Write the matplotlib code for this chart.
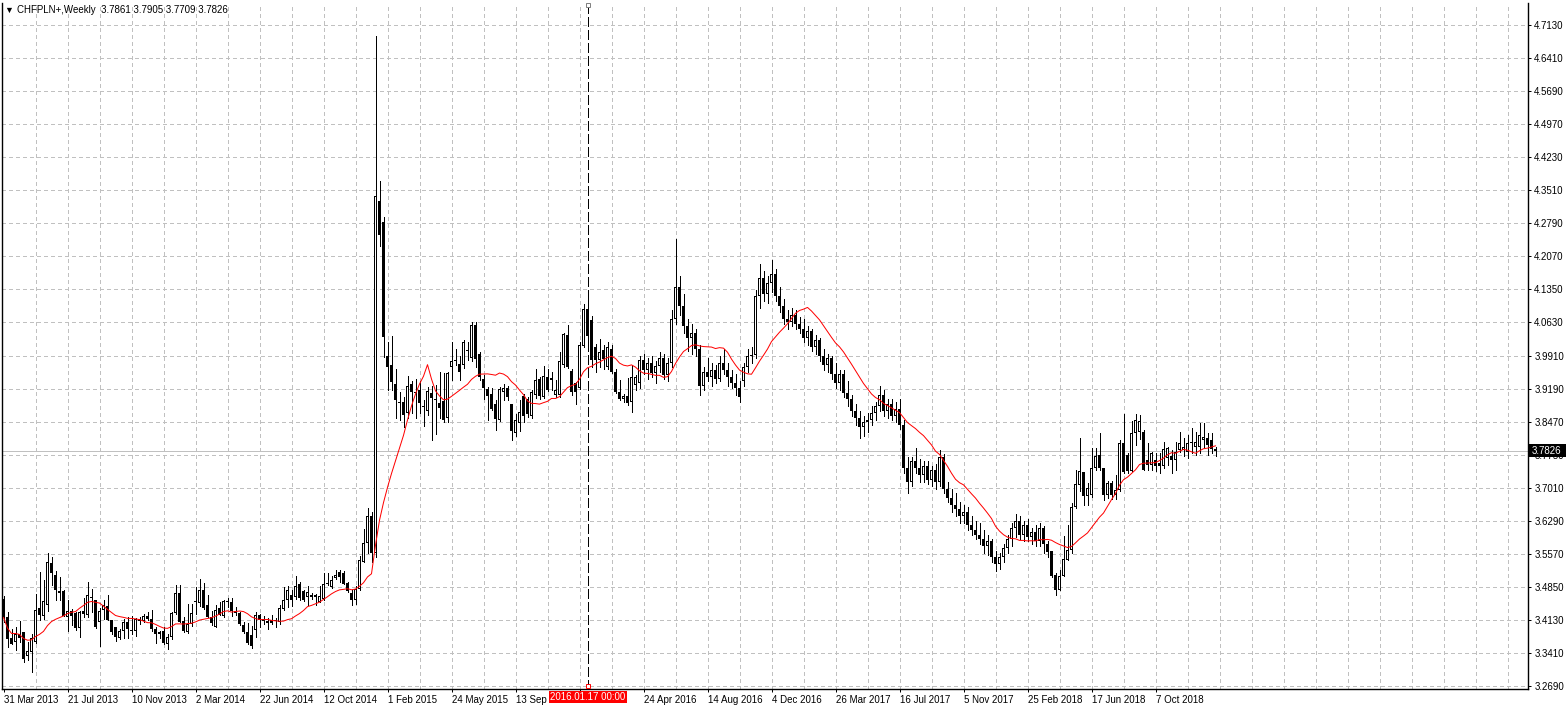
import numpy as np
import pandas as pd
import matplotlib
matplotlib.use("Agg")
import matplotlib.pyplot as plt
from matplotlib.patches import Rectangle

# CHFPLN+ weekly candles, first bar = week of 31 Mar 2013
opens = [3.459, 3.419, 3.375, 3.365, 3.383, 3.387, 3.334, 3.343, 3.365, 3.440,
         3.421, 3.445, 3.537, 3.511, 3.476, 3.476, 3.419, 3.432, 3.428, 3.396,
         3.427, 3.424, 3.462, 3.457, 3.408, 3.436, 3.443, 3.414, 3.397, 3.374,
         3.390, 3.408, 3.389, 3.390, 3.416, 3.411, 3.423, 3.416, 3.394, 3.383,
         3.389, 3.361, 3.376, 3.429, 3.473, 3.412, 3.387, 3.404, 3.455, 3.450,
         3.479, 3.445, 3.420, 3.399, 3.440, 3.421, 3.454, 3.452, 3.432, 3.428,
         3.402, 3.388, 3.380, 3.392, 3.425, 3.412, 3.407, 3.414, 3.411, 3.409,
         3.438, 3.456, 3.467, 3.463, 3.493, 3.476, 3.463, 3.467, 3.467, 3.452,
         3.459, 3.494, 3.486, 3.504, 3.518, 3.516, 3.494, 3.472, 3.458, 3.480,
         3.541, 3.581, 3.640, 3.560, 4.329, 4.283, 3.991, 3.970, 3.929, 3.890,
         3.889, 3.865, 3.929, 3.912, 3.916, 3.880, 3.870, 3.909, 3.894, 3.887,
         3.892, 3.854, 3.966, 3.982, 3.973, 3.970, 4.000, 3.985, 4.057, 3.995,
         3.940, 3.917, 3.908, 3.886, 3.850, 3.912, 3.921, 3.885, 3.822, 3.844,
         3.902, 3.895, 3.858, 3.904, 3.940, 3.901, 3.944, 3.937, 3.904, 3.904,
         3.970, 4.035, 3.957, 3.930, 3.919, 4.011, 4.092, 4.068, 4.010, 3.981,
         4.003, 3.966, 4.006, 3.955, 3.911, 3.895, 3.902, 3.890, 3.926, 3.930,
         3.981, 3.960, 3.975, 3.952, 3.968, 3.985, 3.948, 3.975, 4.070, 4.140,
         4.100, 4.055, 4.030, 4.040, 4.005, 3.925, 3.955, 3.945, 3.960, 3.940,
         3.975, 3.960, 3.945, 3.930, 3.920, 3.935, 3.965, 3.990, 3.992, 4.120,
         4.160, 4.125, 4.150, 4.170, 4.120, 4.100, 4.070, 4.065, 4.080, 4.060,
         4.050, 4.030, 4.045, 4.010, 4.025, 3.990, 3.970, 3.985, 3.950, 3.930,
         3.950, 3.910, 3.895, 3.870, 3.855, 3.835, 3.845, 3.850, 3.865, 3.880,
         3.905, 3.870, 3.885, 3.860, 3.875, 3.840, 3.745, 3.715, 3.760, 3.745,
         3.730, 3.750, 3.720, 3.740, 3.715, 3.770, 3.700, 3.680, 3.665, 3.655,
         3.640, 3.650, 3.620, 3.610, 3.600, 3.590, 3.575, 3.585, 3.550, 3.535,
         3.550, 3.570, 3.590, 3.615, 3.630, 3.600, 3.620, 3.595, 3.605, 3.585,
         3.615, 3.580, 3.563, 3.512, 3.478, 3.510, 3.545, 3.567, 3.661, 3.709,
         3.736, 3.685, 3.687, 3.745, 3.774, 3.745, 3.687, 3.712, 3.687, 3.698,
         3.801, 3.774, 3.738, 3.822, 3.825, 3.825, 3.763, 3.752, 3.763, 3.756,
         3.749, 3.767, 3.771, 3.763, 3.785, 3.785, 3.781, 3.803, 3.792, 3.792,
         3.807, 3.811, 3.807, 3.7861]
highs = [3.465, 3.430, 3.393, 3.398, 3.412, 3.388, 3.365, 3.383, 3.471, 3.518,
         3.500, 3.560, 3.550, 3.520, 3.507, 3.479, 3.456, 3.438, 3.430, 3.434,
         3.462, 3.497, 3.480, 3.457, 3.440, 3.456, 3.467, 3.414, 3.399, 3.394,
         3.416, 3.419, 3.422, 3.418, 3.420, 3.427, 3.431, 3.435, 3.397, 3.390,
         3.397, 3.383, 3.430, 3.489, 3.489, 3.420, 3.449, 3.449, 3.485, 3.502,
         3.494, 3.467, 3.433, 3.445, 3.453, 3.457, 3.462, 3.462, 3.441, 3.430,
         3.409, 3.406, 3.400, 3.430, 3.427, 3.421, 3.418, 3.424, 3.418, 3.445,
         3.485, 3.488, 3.478, 3.510, 3.497, 3.479, 3.487, 3.472, 3.470, 3.488,
         3.515, 3.515, 3.510, 3.522, 3.523, 3.520, 3.496, 3.478, 3.487, 3.553,
         3.613, 3.658, 3.650, 4.689, 4.372, 4.294, 4.021, 4.034, 3.962, 3.911,
         3.900, 3.946, 3.936, 3.940, 3.935, 3.894, 3.923, 3.924, 3.927, 3.956,
         3.953, 3.954, 4.021, 4.006, 3.991, 4.024, 4.021, 4.064, 4.064, 3.999,
         3.948, 3.922, 3.919, 3.893, 3.922, 3.928, 3.924, 3.885, 3.864, 3.893,
         3.908, 3.900, 3.915, 3.962, 3.944, 3.968, 3.962, 3.955, 3.937, 3.999,
         4.040, 4.057, 3.962, 3.933, 4.021, 4.104, 4.130, 4.077, 4.017, 4.028,
         4.014, 4.021, 4.013, 3.962, 3.937, 3.908, 3.943, 3.970, 3.948, 3.990,
         3.995, 3.985, 3.990, 3.980, 3.998, 3.995, 3.985, 4.090, 4.245, 4.165,
         4.125, 4.070, 4.060, 4.050, 4.015, 3.965, 3.985, 3.975, 3.970, 3.990,
         4.005, 3.975, 3.960, 3.950, 3.935, 3.975, 4.005, 4.010, 4.135, 4.190,
         4.175, 4.165, 4.200, 4.180, 4.140, 4.115, 4.090, 4.095, 4.090, 4.075,
         4.070, 4.055, 4.050, 4.035, 4.030, 4.005, 3.995, 3.990, 3.975, 3.960,
         3.960, 3.935, 3.905, 3.885, 3.870, 3.860, 3.865, 3.880, 3.890, 3.925,
         3.915, 3.895, 3.895, 3.890, 3.895, 3.850, 3.770, 3.770, 3.790, 3.765,
         3.760, 3.760, 3.750, 3.755, 3.785, 3.775, 3.715, 3.700, 3.690, 3.670,
         3.665, 3.660, 3.640, 3.630, 3.625, 3.610, 3.600, 3.590, 3.565, 3.560,
         3.580, 3.600, 3.625, 3.645, 3.640, 3.630, 3.635, 3.615, 3.620, 3.625,
         3.618, 3.585, 3.563, 3.516, 3.522, 3.596, 3.621, 3.669, 3.741, 3.811,
         3.736, 3.712, 3.789, 3.789, 3.821, 3.745, 3.716, 3.716, 3.731, 3.807,
         3.864, 3.778, 3.847, 3.864, 3.862, 3.829, 3.800, 3.781, 3.778, 3.778,
         3.803, 3.792, 3.785, 3.803, 3.825, 3.811, 3.818, 3.832, 3.825, 3.843,
         3.843, 3.821, 3.821, 3.7905]
lows = [3.410, 3.354, 3.361, 3.348, 3.365, 3.322, 3.325, 3.300, 3.364, 3.413,
        3.416, 3.434, 3.489, 3.456, 3.456, 3.423, 3.389, 3.403, 3.391, 3.376,
        3.419, 3.420, 3.430, 3.395, 3.356, 3.416, 3.413, 3.383, 3.367, 3.371,
        3.374, 3.374, 3.383, 3.379, 3.404, 3.409, 3.414, 3.390, 3.363, 3.375,
        3.361, 3.350, 3.372, 3.427, 3.409, 3.387, 3.385, 3.400, 3.427, 3.443,
        3.438, 3.419, 3.402, 3.399, 3.424, 3.419, 3.441, 3.423, 3.425, 3.402,
        3.386, 3.360, 3.353, 3.377, 3.397, 3.405, 3.393, 3.404, 3.398, 3.404,
        3.436, 3.442, 3.443, 3.459, 3.458, 3.455, 3.447, 3.459, 3.447, 3.452,
        3.458, 3.489, 3.484, 3.502, 3.497, 3.491, 3.474, 3.447, 3.449, 3.478,
        3.539, 3.560, 3.540, 3.550, 4.230, 3.987, 3.916, 3.916, 3.854, 3.850,
        3.835, 3.854, 3.865, 3.854, 3.865, 3.836, 3.861, 3.806, 3.820, 3.854,
        3.846, 3.846, 3.937, 3.970, 3.937, 3.963, 3.981, 3.980, 3.965, 3.937,
        3.897, 3.850, 3.872, 3.828, 3.848, 3.893, 3.893, 3.806, 3.815, 3.827,
        3.846, 3.857, 3.855, 3.899, 3.897, 3.899, 3.913, 3.915, 3.900, 3.900,
        3.965, 3.963, 3.904, 3.886, 3.917, 4.010, 4.020, 3.965, 3.955, 3.966,
        3.962, 3.962, 3.953, 3.909, 3.893, 3.890, 3.884, 3.868, 3.915, 3.920,
        3.950, 3.940, 3.945, 3.930, 3.955, 3.940, 3.935, 3.965, 4.060, 4.080,
        4.040, 4.000, 3.995, 3.990, 3.905, 3.915, 3.935, 3.925, 3.930, 3.935,
        3.950, 3.925, 3.920, 3.905, 3.890, 3.925, 3.955, 3.975, 3.985, 4.095,
        4.110, 4.105, 4.130, 4.110, 4.085, 4.060, 4.050, 4.055, 4.050, 4.040,
        4.020, 4.015, 4.000, 3.995, 3.980, 3.960, 3.955, 3.940, 3.920, 3.915,
        3.900, 3.880, 3.860, 3.840, 3.810, 3.815, 3.825, 3.840, 3.850, 3.870,
        3.860, 3.855, 3.850, 3.845, 3.830, 3.735, 3.690, 3.705, 3.735, 3.715,
        3.715, 3.710, 3.705, 3.700, 3.705, 3.690, 3.670, 3.650, 3.640, 3.625,
        3.625, 3.610, 3.600, 3.590, 3.580, 3.560, 3.555, 3.540, 3.520, 3.525,
        3.540, 3.560, 3.575, 3.595, 3.590, 3.585, 3.585, 3.580, 3.575, 3.575,
        3.559, 3.552, 3.508, 3.468, 3.478, 3.510, 3.545, 3.559, 3.658, 3.694,
        3.665, 3.665, 3.683, 3.741, 3.741, 3.676, 3.679, 3.677, 3.677, 3.694,
        3.734, 3.734, 3.738, 3.796, 3.808, 3.741, 3.741, 3.741, 3.738, 3.734,
        3.745, 3.752, 3.734, 3.741, 3.781, 3.771, 3.767, 3.778, 3.774, 3.778,
        3.789, 3.774, 3.778, 3.7709]
closes = [3.419, 3.372, 3.361, 3.383, 3.374, 3.329, 3.346, 3.375, 3.436, 3.424,
          3.454, 3.541, 3.515, 3.478, 3.472, 3.423, 3.432, 3.423, 3.396, 3.430,
          3.432, 3.469, 3.464, 3.398, 3.432, 3.447, 3.414, 3.387, 3.377, 3.390,
          3.408, 3.394, 3.392, 3.416, 3.411, 3.423, 3.416, 3.394, 3.383, 3.387,
          3.363, 3.377, 3.429, 3.473, 3.410, 3.389, 3.404, 3.428, 3.452, 3.479,
          3.440, 3.420, 3.406, 3.436, 3.425, 3.454, 3.452, 3.432, 3.429, 3.404,
          3.387, 3.363, 3.356, 3.425, 3.413, 3.416, 3.411, 3.407, 3.413, 3.440,
          3.456, 3.478, 3.456, 3.488, 3.461, 3.457, 3.474, 3.463, 3.463, 3.465,
          3.492, 3.492, 3.501, 3.511, 3.507, 3.493, 3.476, 3.456, 3.482, 3.544,
          3.581, 3.640, 3.560, 4.339, 4.254, 4.032, 3.967, 3.934, 3.894, 3.888,
          3.862, 3.925, 3.912, 3.909, 3.887, 3.879, 3.914, 3.898, 3.893, 3.876,
          3.850, 3.953, 3.980, 3.979, 3.955, 4.021, 4.001, 4.057, 3.983, 3.944,
          3.919, 3.902, 3.875, 3.853, 3.917, 3.921, 3.901, 3.826, 3.851, 3.868,
          3.860, 3.864, 3.911, 3.937, 3.902, 3.947, 3.915, 3.942, 3.915, 3.978,
          4.037, 3.966, 3.911, 3.911, 4.013, 4.093, 4.033, 3.981, 3.981, 3.999,
          3.984, 4.010, 3.955, 3.911, 3.895, 3.902, 3.887, 3.944, 3.944, 3.981,
          3.960, 3.975, 3.952, 3.968, 3.985, 3.948, 3.975, 4.070, 4.140, 4.100,
          4.055, 4.030, 4.040, 4.005, 3.925, 3.955, 3.945, 3.960, 3.940, 3.975,
          3.960, 3.945, 3.930, 3.920, 3.900, 3.965, 3.990, 3.992, 4.120, 4.160,
          4.125, 4.150, 4.170, 4.120, 4.100, 4.070, 4.065, 4.080, 4.060, 4.050,
          4.030, 4.045, 4.010, 4.025, 3.990, 3.970, 3.985, 3.950, 3.930, 3.950,
          3.910, 3.895, 3.870, 3.855, 3.835, 3.845, 3.850, 3.865, 3.880, 3.905,
          3.870, 3.885, 3.860, 3.875, 3.840, 3.745, 3.715, 3.760, 3.745, 3.730,
          3.750, 3.720, 3.740, 3.715, 3.770, 3.700, 3.680, 3.665, 3.655, 3.640,
          3.650, 3.620, 3.610, 3.600, 3.590, 3.575, 3.585, 3.550, 3.535, 3.550,
          3.570, 3.590, 3.615, 3.630, 3.600, 3.620, 3.595, 3.605, 3.585, 3.615,
          3.580, 3.561, 3.510, 3.479, 3.510, 3.546, 3.567, 3.661, 3.711, 3.738,
          3.685, 3.701, 3.745, 3.772, 3.745, 3.687, 3.712, 3.687, 3.698, 3.800,
          3.736, 3.738, 3.822, 3.851, 3.847, 3.741, 3.752, 3.778, 3.750, 3.749,
          3.787, 3.789, 3.763, 3.781, 3.800, 3.792, 3.800, 3.800, 3.803, 3.818,
          3.814, 3.796, 3.787, 3.7826]

price_labels = ["3.2690", "3.3410", "3.4130", "3.4850", "3.5570", "3.6290", "3.7010",
                "3.7750", "3.8470", "3.9190", "3.9910", "4.0630", "4.1350", "4.2070",
                "4.2790", "4.3510", "4.4230", "4.4970", "4.5690", "4.6410", "4.7130"]
header = "CHFPLN+,Weekly  3.7861 3.7905 3.7709 3.7826"
last_price = 3.7826
cursor_bar = 146
cursor_label = "2016.01.17 00:00"

W, H = 1568, 709
PX = 0.72  # one pixel in points
plt.rcParams['font.family'] = ['Liberation Sans', 'DejaVu Sans']

o = np.array(opens)
hi = np.array(highs)
lo = np.array(lows)
c = np.array(closes)
n = len(c)
x = np.arange(n)
weeks = pd.date_range("2013-03-31", periods=n, freq="7D")
ma = pd.Series(c).rolling(14, min_periods=1).mean()

fig = plt.figure(figsize=(W / 100, H / 100), dpi=100)
left, right, top, bottom = 2, 1528, 3, 689
ax = fig.add_axes([left / W, (H - bottom) / H, (right - left) / W, (bottom - top) / H])
ax.set_xlim(-0.375, -0.375 + (right - left) / 4)
ymin = 4.713 - (bottom - 25) / 457.8
ymax = 4.713 + (25 - top) / 457.8
ax.set_ylim(ymin, ymax)
ppx = 1 / 457.8  # price per pixel

# grid
yt = np.linspace(3.269, 4.713, len(price_labels))
for yv in yt:
    ax.axhline(yv, color="#c0c0c0", lw=PX, ls=(0, (3, 3)), zorder=0, antialiased=False)
for xv in np.arange(8, 384, 8):
    ax.axvline(xv, color="#c0c0c0", lw=PX, ls=(0, (3, 3)), zorder=0, antialiased=False)

# current price line
ax.axhline(last_price, color="#c0c0c0", lw=PX, zorder=1, antialiased=False)

# candles: wick, black body, white core for rising bars
ax.vlines(x, lo, hi, color="black", lw=PX, zorder=2, antialiased=False)
body_lo = np.minimum(o, c)
body_h = np.maximum(np.abs(c - o), ppx)
ax.bar(x, body_h, bottom=body_lo, width=0.75, color="black", linewidth=0,
       zorder=3, antialiased=False)
up = (c > o) & (np.abs(c - o) > 2.5 * ppx)
ax.bar(x[up], (np.abs(c - o) - 2 * ppx)[up], bottom=(body_lo + ppx)[up], width=0.25,
       color="white", linewidth=0, zorder=4, antialiased=False)

# moving average
ax.plot(x, ma, color="red", lw=PX, zorder=5)

# cursor line
ax.axvline(cursor_bar, color="black", lw=PX, ls=(0, (10, 4)), zorder=6, antialiased=False)
ax.plot([cursor_bar], [ymax - 2 * ppx], marker="s", ms=3.5, mfc="white", mec="#808080",
        mew=0.7, clip_on=False, zorder=7)
ax.plot([cursor_bar], [ymin + 3 * ppx], marker="s", ms=3.5, mfc="white", mec="red",
        mew=0.7, clip_on=False, zorder=7)

ax.spines["top"].set_visible(False)
for s in ["left", "right", "bottom"]:
    ax.spines[s].set_linewidth(1.0)

ax.yaxis.tick_right()
ax.set_yticks(yt)
ax.set_yticklabels(price_labels, fontsize=7)
ax.tick_params(axis="y", length=2.5, width=PX, pad=2)

xt = np.arange(0, n, 16)
xlabels = [f"{d.day} {d.strftime('%b %Y')}" for d in weeks[xt]]
xlabels = ["" if t == 144 else s for t, s in zip(xt, xlabels)]  # hidden under cursor box
ax.set_xticks(xt)
ax.set_xticklabels(xlabels, fontsize=7, ha="left")
ax.tick_params(axis="x", length=2.5, width=PX, pad=2)

# header
fig.text(4 / W, 1 - 10 / H, "\u25bc", fontsize=6.5, va="center", ha="left")
fig.text(17 / W, 1 - 10 / H, header, fontsize=7, va="center", ha="left")

# price box on the right axis
py = ax.transData.transform((0, last_price))[1]
fig.patches.append(Rectangle((1529 / W, (py - 6.5) / H), 37 / W, 13 / H, transform=fig.transFigure,
                             facecolor="black", edgecolor="none", zorder=10))
fig.text(1532 / W, py / H, f"{last_price:.4f}", color="white", fontsize=7, va="center",
         ha="left", zorder=11)

# date box under the cursor
cx = ax.transData.transform((cursor_bar, 0))[0]
fig.patches.append(Rectangle(((cx - 39) / W, (H - 703) / H), 78 / W, 12 / H, transform=fig.transFigure,
                             facecolor="#ff0000", edgecolor="none", zorder=10))
fig.text(cx / W, (H - 697) / H, cursor_label, color="white", fontsize=7, va="center",
         ha="center", zorder=11)

fig.savefig("out.png", dpi=100)
